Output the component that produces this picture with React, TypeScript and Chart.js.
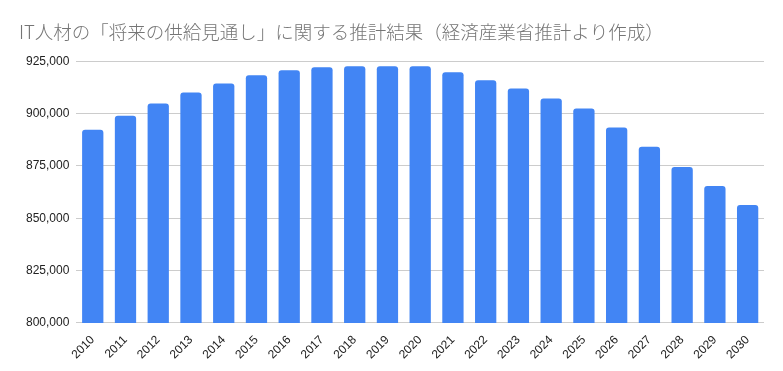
import React, { useEffect, useRef } from "react";
import { Chart, registerables } from "chart.js";

Chart.register(...registerables);

const years: string[] = [
  "2010", "2011", "2012", "2013", "2014", "2015", "2016", "2017", "2018", "2019", "2020",
  "2021", "2022", "2023", "2024", "2025", "2026", "2027", "2028", "2029", "2030",
];
const supply: number[] = [
  892300, 899000, 904800, 910100, 914400, 918300, 920700, 922100, 922600, 922600, 922600,
  919700, 915900, 912000, 907200, 902400, 893300, 884100, 874500, 865400, 856300,
];
const titleText = "IT人材の「将来の供給見通し」に関する推計結果（経済産業省推計より作成）";
const yMin = 800000;
const yMax = 925000;
const yStep = 25000;

export default function App() {
  const ref = useRef<HTMLCanvasElement | null>(null);
  useEffect(() => {
    if (!ref.current) return;
    const chart = new Chart(ref.current, {
      type: "bar",
      data: {
        labels: years,
        datasets: [
          {
            label: "供給",
            data: supply,
            backgroundColor: "#4285F4",
            borderRadius: 3,
            borderSkipped: "bottom",
            barPercentage: 0.65,
            categoryPercentage: 1,
          },
        ],
      },
      options: {
        animation: false,
        responsive: false,
        maintainAspectRatio: false,
        layout: { padding: { left: 19, right: 19, top: 0, bottom: 7 } },
        plugins: {
          legend: { display: false },
          tooltip: { enabled: false },
          title: {
            display: true,
            text: titleText,
            align: "start",
            color: "#757575",
            font: { family: "'Noto Sans CJK JP', 'Noto Sans', sans-serif", size: 18.5, weight: 300 },
            padding: { top: 21, bottom: 18 },
          },
        },
        scales: {
          x: {
            grid: { display: false },
            border: { display: false },
            ticks: {
              color: "#222222",
              font: { family: "'Liberation Sans', Arial, sans-serif", size: 12 },
              maxRotation: 45,
              minRotation: 45,
              autoSkip: false,
              padding: 2,
            },
          },
          y: {
            min: yMin,
            max: yMax,
            grid: { color: "#cccccc", drawTicks: false },
            border: { display: false },
            ticks: {
              stepSize: yStep,
              padding: 7,
              color: "#222222",
              font: { family: "'Liberation Sans', Arial, sans-serif", size: 12 },
              callback: (v: any) => Number(v).toLocaleString("en-US"),
            },
          },
        },
      },
    });
    return () => chart.destroy();
  }, []);
  return (
    <div style={{ position: "absolute", left: 0, top: 0, width: 783, height: 371, background: "#fff" }}>
      <canvas ref={ref} width={783} height={371} style={{ display: "block" }} />
    </div>
  );
}
